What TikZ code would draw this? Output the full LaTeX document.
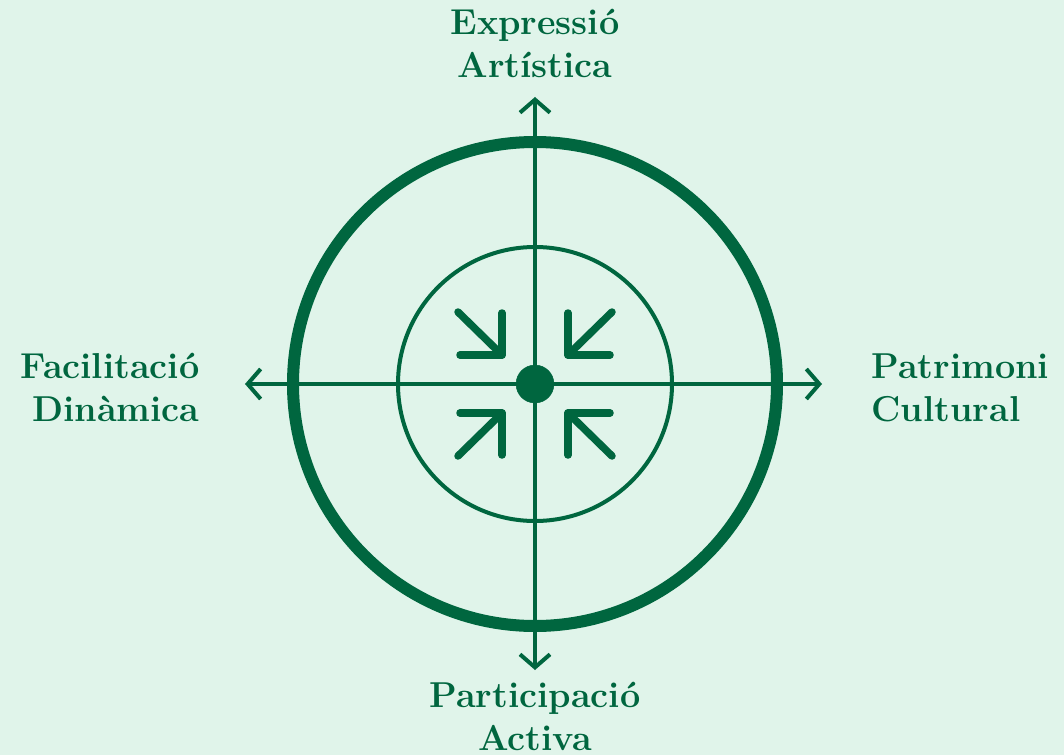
\documentclass[tikz,border=0pt]{standalone}
\usepackage{tikz}
\usetikzlibrary{calc,arrows.meta}

\definecolor{dkgreen}{HTML}{00663F}
\definecolor{mint}{HTML}{E0F4EA}

\tikzset{
  axisline/.style={draw=dkgreen, line width=4pt, line cap=round,
    {Straight Barb[length=13pt, width=30pt, line width=4pt]}-{Straight Barb[length=13pt, width=30pt, line width=4pt]}},
  inarrow/.style={draw=dkgreen, line width=7.5pt, line cap=round, line join=round},
  lbl/.style={text=dkgreen, font=\fontsize{36}{43}\selectfont\bfseries}
}

\begin{document}
\begin{tikzpicture}[x=1pt, y=1pt]

\useasboundingbox (-535,-371) rectangle (529,384);
\fill[mint] (-535,-371) rectangle (529,384);

\coordinate (O) at (0,0);

\coordinate (N) at ($(O) + (0,287)$);
\coordinate (S) at ($(O) + (0,-286)$);
\coordinate (E) at ($(O) + (287,0)$);
\coordinate (W) at ($(O) + (-290,0)$);


\draw[axisline] (W) -- (E);
\draw[axisline] (S) -- (N);

\draw[dkgreen, line width=12pt] (O) circle (242);
\draw[dkgreen, line width=4pt] (O) circle (137);

\filldraw[dkgreen] (O) circle (19);

\foreach \sx/\sy in {-1/1, 1/1, -1/-1, 1/-1} {
  \draw[inarrow] (\sx*77,\sy*72) -- (\sx*33,\sy*29);
  \draw[inarrow] (\sx*75,\sy*29) -- (\sx*33,\sy*29) -- (\sx*33,\sy*71);
}

% base = baseline of the last line
\node[lbl, align=center, anchor=base] (expr) at (0,306) {Expressió\\Artística};
\node[lbl, align=center, anchor=base] (part) at (0,-366) {Participació\\Activa};
\node[lbl, align=right, anchor=base east] (faci) at (-332,-37) {Facilitació\\Dinàmica};
\node[lbl, align=left, anchor=base west] (patr) at (333,-37) {Patrimoni\\Cultural};

\end{tikzpicture}
\end{document}
